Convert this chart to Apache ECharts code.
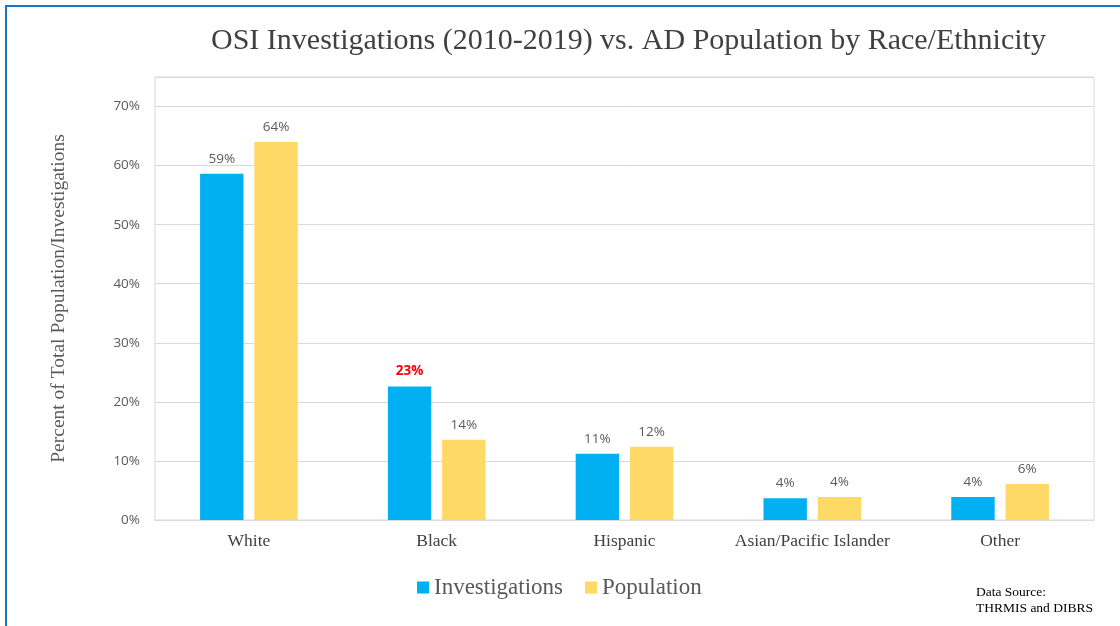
<!DOCTYPE html>
<html>
<head>
<meta charset="utf-8">
<script src="https://cdn.jsdelivr.net/npm/echarts@6/dist/echarts.min.js"></script>
<style>
  html, body { margin: 0; padding: 0; background: #fff; }
  #chart { width: 1120px; height: 626px; }
</style>
</head>
<body>
<div id="chart"></div>
<script>
// data
var categories = ['White', 'Black', 'Hispanic', 'Asian/Pacific Islander', 'Other'];
var investigations = [58.6, 22.6, 11.2, 3.7, 3.9];
var population = [64.0, 13.6, 12.4, 3.9, 6.1];
var seriesNames = ['Investigations', 'Population'];
var highlightIndex = 1; // Black investigations label is red in the original

var serif = '"Liberation Serif", "Times New Roman", serif';
var sans = '"Open Sans", "Liberation Sans", sans-serif';

function createViz() {
    var myChart = echarts.init(document.getElementById('chart'));

    var labelStyle = {
        show: true,
        position: 'top',
        distance: 8,
        fontFamily: sans,
        fontSize: 13.5,
        color: '#595959',
        formatter: function (p) {
            return Math.round(p.value) + '%';
        }
    };

    var option = {
        animation: false,
        title: {
            text: 'OSI Investigations (2010-2019) vs. AD Population by Race/Ethnicity',
            left: 206,
            top: 21,
            textStyle: {
                fontFamily: serif,
                fontSize: 30,
                fontWeight: 'normal',
                color: '#404040'
            }
        },
        legend: {
            data: seriesNames,
            left: 412,
            top: 571,
            icon: 'rect',
            itemWidth: 12,
            itemHeight: 12,
            itemGap: 22,
            itemStyle: { borderWidth: 0 },
            textStyle: {
                fontFamily: serif,
                fontSize: 23,
                color: '#595959'
            }
        },
        grid: {
            show: true,
            left: 155,
            right: 26,
            top: 77,
            bottom: 106,
            borderColor: '#d9d9d9',
            borderWidth: 1
        },
        xAxis: {
            type: 'category',
            data: categories,
            axisTick: { show: false },
            axisLine: { lineStyle: { color: '#d9d9d9', width: 1 } },
            axisLabel: {
                interval: 0,
                margin: 12,
                fontFamily: serif,
                fontSize: 17.5,
                color: '#404040'
            }
        },
        yAxis: {
            type: 'value',
            min: 0,
            max: 75,
            interval: 10,
            name: 'Percent of Total Population/Investigations',
            nameLocation: 'middle',
            nameRotate: 90,
            nameGap: 86,
            nameTextStyle: {
                fontFamily: serif,
                fontSize: 19.5,
                color: '#595959'
            },
            axisLine: { show: false },
            axisTick: { show: false },
            axisLabel: {
                margin: 15,
                fontFamily: sans,
                fontSize: 13.5,
                color: '#595959',
                formatter: function (v) {
                    return v > 70 ? '' : v + '%';
                }
            },
            splitLine: { lineStyle: { color: '#d9d9d9', width: 1 } }
        },
        series: [
            {
                name: seriesNames[0],
                type: 'bar',
                data: investigations.map(function (v, i) {
                    if (i === highlightIndex) {
                        return {
                            value: v,
                            label: { color: '#ff0000', fontWeight: 'bold' }
                        };
                    }
                    return v;
                }),
                itemStyle: { color: '#00b0f0' },
                barGap: '25%',
                barCategoryGap: '48%',
                label: labelStyle
            },
            {
                name: seriesNames[1],
                type: 'bar',
                data: population,
                itemStyle: { color: '#ffd966' },
                barGap: '25%',
                barCategoryGap: '48%',
                label: labelStyle
            }
        ],
        graphic: [
            {
                type: 'rect',
                shape: { x: 6, y: 6, width: 1300, height: 1000 },
                style: { fill: 'none', stroke: '#1a75c9', lineWidth: 2 },
                silent: true
            },
            {
                type: 'text',
                left: 976,
                top: 584,
                style: {
                    text: 'Data Source:\nTHRMIS and DIBRS',
                    fontFamily: serif,
                    fontSize: 13.5,
                    lineHeight: 16,
                    fill: '#000'
                }
            }
        ]
    };

    myChart.setOption(option);
}

createViz();
</script>
</body>
</html>
